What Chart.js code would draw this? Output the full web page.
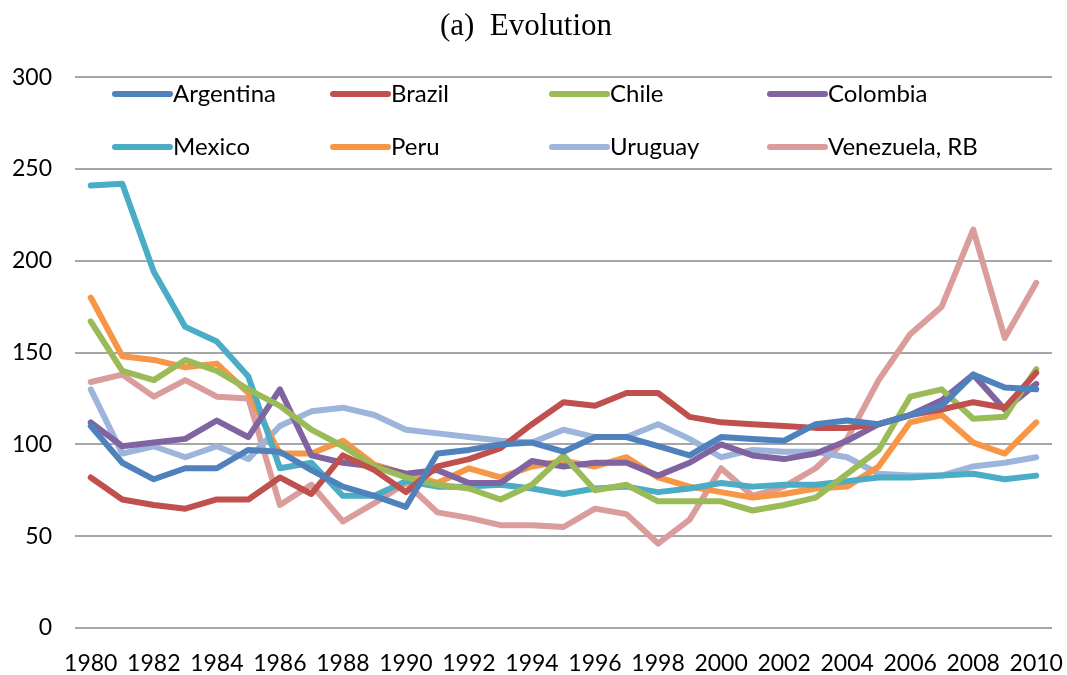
<!DOCTYPE html>
<html>
<head>
<meta charset="utf-8">
<script src="https://cdn.jsdelivr.net/npm/chart.js@4.4.1/dist/chart.umd.min.js"></script>
<style>
  html, body { margin: 0; padding: 0; background: #fff; }
  #wrap { width: 1067px; height: 675px; }
</style>
</head>
<body>
<div id="wrap"><canvas id="chart" width="1067" height="675"></canvas></div>
<script>
const years = [];
for (let y = 1980; y <= 2010; y++) years.push(String(y));

const argentina = [110, 90, 81, 87, 87, 97, 96, 86, 77, 72, 66, 95, 97, 100, 101, 96,
  104, 104, 99, 94, 104, 103, 102, 111, 113, 111, 116, 121, 138, 131, 130];
const brazil = [82, 70, 67, 65, 70, 70, 82, 73, 94, 86, 74, 88, 92, 98, 111, 123,
  121, 128, 128, 115, 112, 111, 110, 109, 109, 111, 116, 119, 123, 120, 139];
const chile = [167, 140, 135, 146, 140, 130, 121, 108, 99, 88, 82, 78, 76, 70, 78, 94,
  75, 78, 69, 69, 69, 64, 67, 71, 84, 97, 126, 130, 114, 115, 141];
const colombia = [112, 99, 101, 103, 113, 104, 130, 94, 90, 88, 84, 86, 79, 79, 91, 88,
  90, 90, 83, 90, 100, 94, 92, 95, 102, 111, 116, 124, 138, 119, 133];
const mexico = [241, 242, 194, 164, 156, 137, 87, 90, 72, 72, 80, 77, 77, 78, 76, 73,
  76, 77, 74, 76, 79, 77, 78, 78, 80, 82, 82, 83, 84, 81, 83];
const peru = [180, 148, 146, 142, 144, 128, 95, 95, 102, 89, 84, 79, 87, 82, 88, 91,
  88, 93, 82, 77, 74, 71, 73, 76, 77, 88, 112, 116, 101, 95, 112];
const uruguay = [130, 95, 99, 93, 99, 92, 110, 118, 120, 116, 108, 106, 104, 102, 101, 108,
  104, 104, 111, 103, 93, 97, 96, 96, 93, 84, 83, 83, 88, 90, 93];
const venezuela = [134, 138, 126, 135, 126, 125, 67, 78, 58, 68, 79, 63, 60, 56, 56, 55,
  65, 62, 46, 59, 87, 72, 77, 87, 103, 135, 160, 175, 217, 158, 188];

const countries = ['Argentina', 'Brazil', 'Chile', 'Colombia', 'Mexico', 'Peru', 'Uruguay', 'Venezuela, RB'];
const series = [argentina, brazil, chile, colombia, mexico, peru, uruguay, venezuela];
const colors = ['#4F81BD', '#C0504D', '#9BBB59', '#8064A2', '#4BACC6', '#F79646', '#9DB5DA', '#DA9D9B'];
const yTicks = [0, 50, 100, 150, 200, 250, 300];

// legend drawn inside the plot, 2 rows x 4 columns like the Excel original
const insideLegend = {
  id: 'insideLegend',
  afterDraw(chart) {
    const ctx = chart.ctx;
    const colX = [115, 333, 552, 770];
    const rowY = [94, 147];
    ctx.save();
    ctx.font = '24px Lato';
    ctx.textBaseline = 'middle';
    chart.data.datasets.forEach((ds, i) => {
      const x = colX[i % 4];
      const y = rowY[Math.floor(i / 4)];
      ctx.strokeStyle = ds.borderColor;
      ctx.lineWidth = 6;
      ctx.lineCap = 'round';
      ctx.beginPath();
      ctx.moveTo(x, y);
      ctx.lineTo(x + 55, y);
      ctx.stroke();
      ctx.fillStyle = '#000';
      ctx.fillText(ds.label, x + 58, y);
    });
    ctx.restore();
  }
};

new Chart(document.getElementById('chart'), {
  type: 'line',
  data: {
    labels: years,
    datasets: countries.map((name, i) => ({
      label: name,
      data: series[i],
      borderColor: colors[i],
      backgroundColor: colors[i],
      borderWidth: 6,
      pointRadius: 0,
      tension: 0,
      borderJoinStyle: 'round',
      borderCapStyle: 'round'
    }))
  },
  options: {
    responsive: false,
    animation: false,
    layout: { padding: { left: 0, right: 15, top: 0, bottom: 0 } },
    plugins: {
      legend: { display: false },
      tooltip: { enabled: false },
      title: {
        display: true,
        text: '(a)  Evolution',
        color: '#000',
        font: { family: 'Liberation Serif', size: 31, weight: 'normal' },
        padding: { top: 8, bottom: 32 }
      }
    },
    scales: {
      x: {
        offset: true,
        afterFit: (axis) => { axis.height = 47; axis.paddingRight = 0; axis.paddingLeft = 0; },
        grid: { display: false, drawTicks: false },
        border: { display: false },
        ticks: {
          autoSkip: false,
          maxRotation: 0,
          padding: 22,
          color: '#000',
          font: { family: 'Lato', size: 23 },
          callback: function (val, idx) {
            return idx % 2 === 0 ? this.getLabelForValue(val) : '';
          }
        }
      },
      y: {
        min: 0,
        max: 300,
        afterBuildTicks: (axis) => { axis.ticks = yTicks.map(v => ({ value: v })); },
        afterFit: (axis) => { axis.width = 75; },
        grid: { color: '#A6A6A6', lineWidth: 2, drawTicks: false },
        border: { display: false },
        ticks: {
          padding: 23,
          color: '#000',
          font: { family: 'Lato', size: 23 }
        }
      }
    }
  },
  plugins: [insideLegend]
});
</script>
</body>
</html>
